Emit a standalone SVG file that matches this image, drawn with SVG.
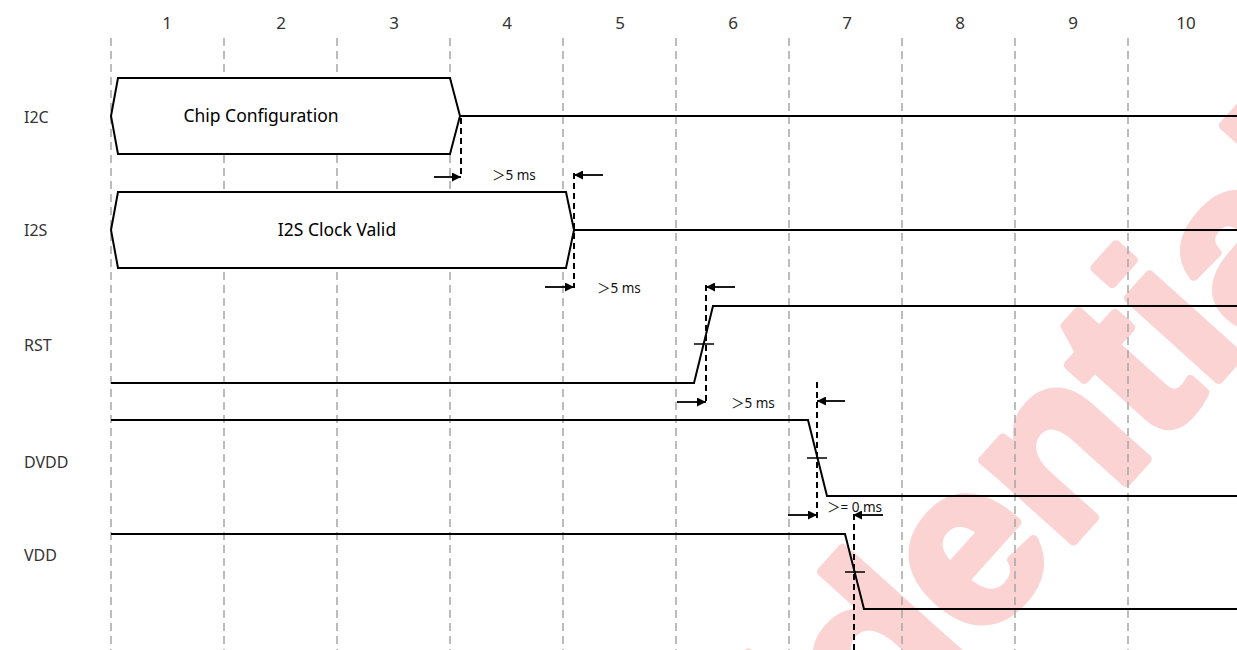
<svg xmlns="http://www.w3.org/2000/svg" width="1237" height="650" viewBox="0 0 1237 650">
<style>
.grid{stroke:#a6a6a6;stroke-width:1.5;stroke-dasharray:8 5;fill:none}
.sig{stroke:#000;stroke-width:2;fill:none;stroke-linejoin:miter}
.bus{stroke:#000;stroke-width:2;fill:#fff}
.mark{stroke:#000;stroke-width:2;stroke-dasharray:6 4;fill:none}
.arr{stroke:#000;stroke-width:1.8;fill:none;marker-end:url(#ah)}
.tick{stroke:#000;stroke-width:1.5}
.lbl{font-family:"Noto Sans","Open Sans","Noto Sans CJK SC",sans-serif;font-size:16px;fill:#333}
.num{font-family:"Noto Sans","Open Sans",sans-serif;font-size:17px;fill:#333;text-anchor:middle}
.ms{font-family:"Noto Sans","Noto Sans CJK SC",sans-serif;font-size:13.5px;fill:#111}
.bt{font-family:"Noto Sans","Open Sans",sans-serif;font-size:17.5px;fill:#000;text-anchor:middle}
.wm{font-family:"Liberation Sans",Arial,sans-serif;font-weight:bold;font-size:230px;fill:#fbd3d3;stroke:#fbd3d3;stroke-width:9;stroke-linejoin:round}
</style>
<defs>
<marker id="ah" viewBox="0 0 10 10" refX="10" refY="5" markerWidth="9" markerHeight="9" markerUnits="userSpaceOnUse" orient="auto">
<path d="M0,0 L10,5 L0,10 z" fill="#000"/>
</marker>
</defs>
<rect width="1237" height="650" fill="#fff"/>
<text class="wm" transform="translate(490,1189) rotate(-48)">Confidential</text>
<g id="grid">
<path class="grid" d="M111,38V650M224,38V650M337,38V650M450,38V650M563,38V650M676,38V650M789,38V650M902,38V650M1015,38V650M1128,38V650"/>
<text class="num" x="167" y="29">1</text>
<text class="num" x="281" y="29">2</text>
<text class="num" x="394" y="29">3</text>
<text class="num" x="507" y="29">4</text>
<text class="num" x="620" y="29">5</text>
<text class="num" x="733" y="29">6</text>
<text class="num" x="847" y="29">7</text>
<text class="num" x="960" y="29">8</text>
<text class="num" x="1073" y="29">9</text>
<text class="num" x="1186" y="29">10</text>
</g>
<g id="I2C">
<text class="lbl" x="24" y="123">I2C</text>
<path class="bus" d="M111,116 L118,78 L450,78 L460,116 L450,154 L118,154 Z"/>
<path class="sig" d="M460,116 H1237"/>
<text class="bt" x="261" y="122">Chip Configuration</text>
</g>
<g id="I2S">
<text class="lbl" x="24" y="236">I2S</text>
<path class="bus" d="M111,230 L118,192 L566,192 L574,230 L566,268 L118,268 Z"/>
<path class="sig" d="M574,230 H1237"/>
<text class="bt" x="337" y="236">I2S Clock Valid</text>
</g>
<g id="RST">
<text class="lbl" x="24" y="351">RST</text>
<path class="sig" d="M111,383 H694 L713,306 H1237"/>
<path class="tick" d="M694,344 H714"/>
</g>
<g id="DVDD">
<text class="lbl" x="24" y="468">DVDD</text>
<path class="sig" d="M111,420 H808 L827,496 H1237"/>
<path class="tick" d="M807,458 H827"/>
</g>
<g id="VDD">
<text class="lbl" x="24" y="561">VDD</text>
<path class="sig" d="M111,534 H845 L864,609 H1237"/>
<path class="tick" d="M845,572 H865"/>
</g>
<g id="connectors">
<path class="mark" d="M461,118 V178"/>
<path class="mark" d="M574,173 V288"/>
<path class="mark" d="M706,285 V404"/>
<path class="mark" d="M817,382 V518"/>
<path class="mark" d="M854,514 V650"/>
<path class="arr" d="M434,177 H461"/>
<path class="arr" d="M603,175 H574"/>
<path class="arr" d="M545,287 H574"/>
<path class="arr" d="M735,287 H706"/>
<path class="arr" d="M677,402 H706"/>
<path class="arr" d="M845,401 H817"/>
<path class="arr" d="M788,515 H817"/>
<path class="arr" d="M883,515 H853"/>
<text class="ms" x="492" y="180">＞5 ms</text>
<text class="ms" x="597" y="293">＞5 ms</text>
<text class="ms" x="731" y="408">＞5 ms</text>
<text class="ms" x="827" y="512">＞= 0 ms</text>
</g>
</svg>
